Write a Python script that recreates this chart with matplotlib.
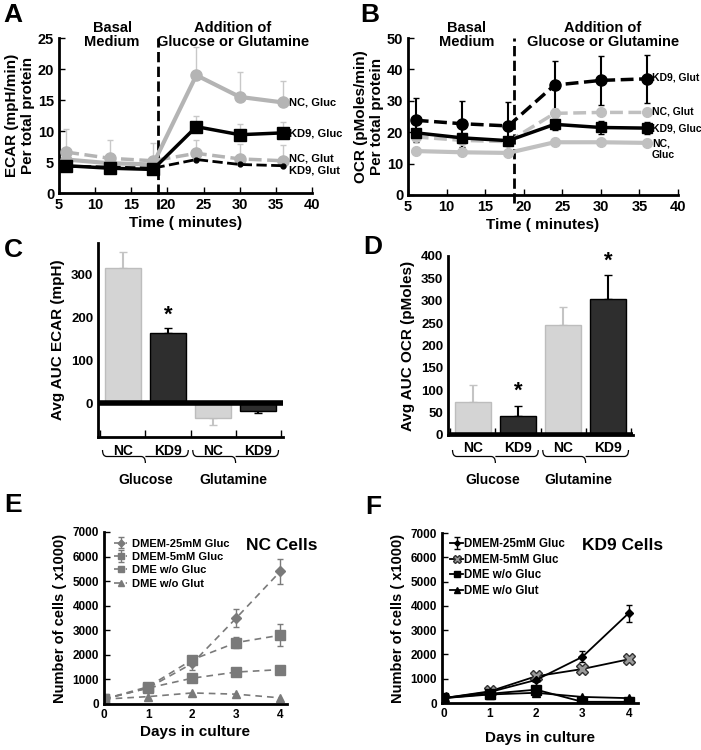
import matplotlib
matplotlib.use("Agg")
import matplotlib.pyplot as plt
import numpy as np
from matplotlib.path import Path
from matplotlib.patches import PathPatch
import matplotlib.transforms as mtransforms

plt.rcParams['font.family'] = ['Liberation Sans', 'DejaVu Sans']
plt.rcParams['font.weight'] = 'bold'
plt.rcParams['axes.labelweight'] = 'bold'

W, H = 701, 750

# ---------------- Data ----------------
time_min = [6, 12, 18, 24, 30, 36]
ecar_nc_gluc = [5.4, 4.8, 4.6, 19.0, 15.5, 14.6]
ecar_nc_gluc_err = [0, 0, 0, 4.5, 4.0, 3.4]
ecar_kd9_gluc = [4.4, 4.0, 3.8, 10.7, 9.4, 9.7]
ecar_kd9_gluc_err = [0, 0, 0, 1.7, 1.8, 1.8]
ecar_nc_glut = [6.6, 5.6, 5.2, 6.4, 5.5, 5.2]
ecar_nc_glut_err = [3.8, 3.0, 2.9, 2.1, 2.4, 2.5]
ecar_kd9_glut = [4.3, 4.2, 4.0, 5.4, 4.6, 4.4]

ocr_kd9_glut = [23.8, 22.7, 22.0, 35.0, 36.5, 37.0]
ocr_kd9_glut_err = [7.0, 7.3, 7.6, 7.7, 7.7, 7.6]
ocr_nc_glut = [18.5, 17.4, 17.0, 26.0, 26.3, 26.3]
ocr_kd9_gluc = [19.8, 18.2, 17.3, 22.5, 21.5, 21.3]
ocr_kd9_gluc_err = [0, 0, 0, 1.7, 2.0, 2.0]
ocr_nc_gluc = [14.0, 13.6, 13.4, 16.8, 16.8, 16.6]

bar_labels = ['NC', 'KD9', 'NC', 'KD9']
group_labels = ['Glucose', 'Glutamine']
auc_ecar = [315, 163, -35, -18]
auc_ecar_err = [37, 12, 15, 5]
auc_ocr = [73, 42, 245, 305]
auc_ocr_err = [38, 23, 40, 52]

days = [0, 1, 2, 3, 4]
series_names = ['DMEM-25mM Gluc', 'DMEM-5mM Gluc', 'DME w/o Gluc', 'DME w/o Glut']
nc_25 = [200, 650, 1650, 3500, 5400]
nc_25_err = [0, 0, 250, 380, 500]
nc_5 = [200, 700, 1800, 2500, 2800]
nc_5_err = [0, 0, 100, 230, 450]
nc_nogluc = [200, 650, 1050, 1300, 1400]
nc_noglut = [200, 300, 450, 400, 250]
kd_25 = [200, 450, 950, 1900, 3700]
kd_25_err = [0, 0, 0, 230, 350]
kd_5 = [200, 480, 1100, 1400, 1800]
kd_nogluc = [200, 380, 550, 50, 50]
kd_noglut = [200, 350, 420, 250, 200]

fig = plt.figure(figsize=(W / 100, H / 100), dpi=100)


def add_ax(l, t, r, b):
    return fig.add_axes([l / W, 1 - b / H, (r - l) / W, (b - t) / H])


def ftext(x, y, s, **kw):
    kw.setdefault('fontweight', 'bold')
    fig.text(x / W, 1 - y / H, s, **kw)


def style(ax, fs=9.5):
    for s in ['top', 'right']:
        ax.spines[s].set_visible(False)
    for s in ['left', 'bottom']:
        ax.spines[s].set_linewidth(2)
    ax.tick_params(direction='in', length=4, width=1, labelsize=fs)
    for lab in ax.get_xticklabels() + ax.get_yticklabels():
        lab.set_fontweight('bold')


LG = '#b4b4b4'
# ---------------- Panel A ----------------
axA = add_ax(59, 38, 312, 193)
axA.plot(time_min, ecar_nc_gluc, '-', color=LG, lw=3, marker='o', ms=8, zorder=3)
axA.errorbar(time_min, ecar_nc_gluc, yerr=[[0]*6, ecar_nc_gluc_err], fmt='none',
             ecolor='#c8c8c8', elinewidth=1, capsize=2)
axA.plot(time_min, ecar_nc_glut, '--', color=LG, lw=2.5, marker='o', ms=8, zorder=3)
axA.errorbar(time_min, ecar_nc_glut, yerr=[[0]*6, ecar_nc_glut_err], fmt='none',
             ecolor='#c8c8c8', elinewidth=1, capsize=2)
axA.plot(time_min, ecar_kd9_gluc, '-', color='black', lw=2.5, marker='s', ms=8, zorder=4)
axA.errorbar(time_min, ecar_kd9_gluc, yerr=[[0]*6, ecar_kd9_gluc_err], fmt='none',
             ecolor='#c8c8c8', elinewidth=1, capsize=2)
axA.plot(time_min, ecar_kd9_glut, '--', color='black', lw=2, marker='o', ms=3.5, zorder=4)
axA.set_xlim(5, 40)
axA.set_ylim(0, 25)
axA.set_xticks(range(5, 41, 5))
axA.set_yticks(range(0, 26, 5))
axA.axvline(18.7, ymin=-0.1, ymax=1, color='black', ls='--', lw=2, clip_on=False)
style(axA, 10.5)
axA.set_xlabel('Time ( minutes)', fontsize=11, labelpad=3)
axA.set_ylabel('ECAR (mpH/min)\nPer total protein', fontsize=11, labelpad=2)
for y, s in [(14.6, 'NC, Gluc'), (9.6, 'KD9, Gluc'), (5.5, 'NC, Glut'), (3.6, 'KD9, Glut')]:
    axA.text(36.8, y, s, fontsize=8, fontweight='bold', va='center', ha='left')
ftext(112, 35, 'Basal\nMedium', fontsize=10.5, ha='center', va='center', linespacing=1.0)
ftext(233, 35, 'Addition of\nGlucose or Glutamine', fontsize=10.5, ha='center', va='center', linespacing=1.0)

# ---------------- Panel B ----------------
axB = add_ax(408, 38, 678, 195)
axB.plot(time_min, ocr_nc_gluc, '-', color='#c0c0c0', lw=3, marker='o', ms=7, zorder=3)
axB.plot(time_min, ocr_nc_glut, '--', color='#c0c0c0', lw=2.5, marker='o', ms=7, zorder=3)
axB.plot(time_min, ocr_kd9_gluc, '-', color='black', lw=2.5, marker='s', ms=7, zorder=4)
axB.errorbar(time_min, ocr_kd9_gluc, yerr=ocr_kd9_gluc_err, fmt='none',
             ecolor='black', elinewidth=1.2, capsize=2)
axB.plot(time_min, ocr_kd9_glut, '--', color='black', lw=2.5, marker='o', ms=8, zorder=5)
axB.errorbar(time_min, ocr_kd9_glut, yerr=ocr_kd9_glut_err, fmt='none',
             ecolor='black', elinewidth=1.5, capsize=2.5)
axB.set_xlim(5, 40)
axB.set_ylim(0, 50)
axB.set_xticks(range(5, 41, 5))
axB.set_yticks(range(0, 51, 10))
axB.axvline(18.7, ymin=-0.05, ymax=1, color='black', ls='--', lw=2, clip_on=False)
style(axB, 10.5)
axB.set_xlabel('Time ( minutes)', fontsize=11, labelpad=3)
axB.set_ylabel('OCR (pMoles/min)\nPer total protein', fontsize=11, labelpad=2)
for y, s in [(37.3, 'KD9, Glut'), (26.5, 'NC, Glut'), (21.3, 'KD9, Gluc'), (14.5, 'NC,\nGluc')]:
    axB.text(36.6, y, s, fontsize=7.5, fontweight='bold', va='center', ha='left')
ftext(467, 35, 'Basal\nMedium', fontsize=10.5, ha='center', va='center', linespacing=1.0)
ftext(603, 35, 'Addition of\nGlucose or Glutamine', fontsize=10.5, ha='center', va='center', linespacing=1.0)


# ---------------- brace helper ----------------
def brace(ax, x0, x1, ytop_px, depth_px=13):
    """draw a curly brace below ax between data x0..x1, y in figure pixels from top"""
    trans = mtransforms.blended_transform_factory(ax.transData, fig.transFigure)
    y0 = 1 - ytop_px / H
    d = depth_px / H
    xm = (x0 + x1) / 2
    r = (x1 - x0) * 0.05
    verts = [(x0, y0), (x0, y0 - d / 2), (x0 + r, y0 - d / 2),
             (xm - r, y0 - d / 2), (xm, y0 - d / 2), (xm, y0 - d),
             (xm, y0 - d / 2), (xm + r, y0 - d / 2),
             (x1 - r, y0 - d / 2), (x1, y0 - d / 2), (x1, y0)]
    codes = [Path.MOVETO, Path.CURVE3, Path.CURVE3,
             Path.LINETO, Path.CURVE3, Path.CURVE3,
             Path.MOVETO, Path.CURVE3, Path.LINETO, Path.CURVE3, Path.CURVE3]
    ax.add_patch(PathPatch(Path(verts, codes), transform=trans, fill=False,
                           lw=0.9, color='black', clip_on=False))


def bar_panel(ax, vals, errs, ylim, yticks, ylabel, stars):
    xs = np.arange(len(vals))
    colors = ['#d4d4d4', '#2e2e2e', '#d4d4d4', '#2e2e2e']
    edges = ['#bdbdbd', 'black', '#bdbdbd', 'black']
    ecols = ['#c4c4c4', 'black', '#c4c4c4', 'black']
    ax.bar(xs, vals, width=0.8, color=colors, edgecolor=edges, lw=1, zorder=2)
    for x, v, e, c in zip(xs, vals, errs, ecols):
        if v >= 0:
            ax.errorbar([x], [v], yerr=[[0], [e]], fmt='none', ecolor=c, elinewidth=1.5, capsize=3, zorder=1)
        else:
            ax.errorbar([x], [v], yerr=[[e], [0]], fmt='none', ecolor=c, elinewidth=1.5, capsize=3, zorder=1)
    ax.axhline(0, color='black', lw=4, zorder=3)
    ax.set_xlim(-0.55, 3.55)
    ax.set_ylim(*ylim)
    ax.set_yticks(yticks)
    ax.set_xticks([-0.5, 0.5, 1.5, 2.5, 3.5])
    ax.set_xticklabels([])
    style(ax, 9.5)
    ax.tick_params(axis='y', length=0)
    ax.tick_params(axis='x', direction='in', length=5, width=1)
    ax.set_ylabel(ylabel, fontsize=11, labelpad=4)
    for i, lab in enumerate(bar_labels):
        ax.text(i, -0.035, lab, transform=mtransforms.blended_transform_factory(ax.transData, ax.transAxes),
                ha='center', va='top', fontsize=10, fontweight='bold')
    for i, yv in stars:
        ax.text(i, yv, '*', ha='center', va='center', fontsize=16, fontweight='bold')


# ---------------- Panel C ----------------
axC = add_ax(98, 243, 283, 437)
bar_panel(axC, auc_ecar, auc_ecar_err, (-78, 372), [0, 100, 200, 300], 'Avg AUC ECAR (mpH)', [(1, 205)])
brace(axC, -0.45, 1.45, 450)
brace(axC, 1.55, 3.45, 450)
ftext(146, 480, group_labels[0], fontsize=10, ha='center', va='center')
ftext(233, 480, group_labels[1], fontsize=10, ha='center', va='center')

# ---------------- Panel D ----------------
axD = add_ax(448, 256, 633, 435)
bar_panel(axD, auc_ocr, auc_ocr_err, (0, 400), list(range(0, 401, 50)), 'Avg AUC OCR (pMoles)',
          [(1, 97), (3, 388)])
brace(axD, -0.45, 1.45, 450)
brace(axD, 1.55, 3.45, 450)
ftext(493, 480, group_labels[0], fontsize=10, ha='center', va='center')
ftext(578, 480, group_labels[1], fontsize=10, ha='center', va='center')

# ---------------- Panel E ----------------
axE = add_ax(104, 532, 287, 704)
G = '#7a7a7a'
hE = []
hE.append(axE.errorbar(days, nc_25, yerr=nc_25_err, fmt='--D', color=G, ms=5, lw=1.2, elinewidth=1,
                       capsize=2, dashes=(4, 3)))
hE.append(axE.errorbar(days, nc_5, yerr=nc_5_err, fmt='--s', color=G, ms=7, lw=1.2, elinewidth=1,
                       capsize=2, dashes=(4, 3)))
hE.append(axE.plot(days, nc_nogluc, '--s', color=G, ms=7, lw=1.2, dashes=(4, 3))[0])
hE.append(axE.plot(days, nc_noglut, '--^', color=G, ms=6, lw=1.2, dashes=(4, 3))[0])
axE.set_xlim(0, 4.15)
axE.set_ylim(0, 7000)
axE.set_xticks(days)
axE.set_yticks(range(0, 7001, 1000))
style(axE, 8.5)
axE.tick_params(axis='x', length=0)
axE.set_xlabel('Days in culture', fontsize=11, labelpad=3)
axE.set_ylabel('Number of cells ( x1000)', fontsize=10.5, labelpad=4)
axE.legend(hE, series_names, loc='upper left', bbox_to_anchor=(0.0, 1.02), frameon=False,
           handlelength=1.2, handletextpad=0.4, labelspacing=0.3, markerscale=0.7,
           prop={'weight': 'bold', 'size': 8})
ftext(317, 545, 'NC Cells', fontsize=12.5, ha='right', va='center')

# ---------------- Panel F ----------------
axF = add_ax(442, 533, 638, 703)
hF = []
hF.append(axF.errorbar(days, kd_25, yerr=kd_25_err, fmt='-D', color='black', ms=4, lw=1.3, elinewidth=1,
                       capsize=2))
hF.append(axF.plot(days, kd_5, '-X', color='black', mfc='#9a9a9a', mec='#333333', ms=9, lw=1.3)[0])
hF.append(axF.plot(days, kd_nogluc, '-s', color='black', ms=7, lw=1.3)[0])
hF.append(axF.plot(days, kd_noglut, '-^', color='black', ms=6, lw=1.3)[0])
axF.set_xlim(-0.03, 4.2)
axF.set_ylim(0, 7000)
axF.set_xticks(days)
axF.set_yticks(range(0, 7001, 1000))
style(axF, 8.5)
axF.tick_params(axis='x', length=0)
axF.set_xlabel('Days in culture', fontsize=11, labelpad=8)
axF.set_ylabel('Number of cells ( x1000)', fontsize=10.5, labelpad=4)
axF.legend(hF, series_names, loc='upper left', bbox_to_anchor=(-0.01, 1.03), frameon=False,
           handlelength=1.1, handletextpad=0.1, labelspacing=0.3, markerscale=0.7,
           prop={'weight': 'bold', 'size': 8.3})
ftext(663, 545, 'KD9 Cells', fontsize=12.5, ha='right', va='center')

# ---------------- panel letters ----------------
for x, y, s in [(13, 15, 'A'), (370, 15, 'B'), (13, 250, 'C'), (373, 247, 'D'), (13, 505, 'E'), (373, 507, 'F')]:
    ftext(x, y, s, fontsize=19, ha='center', va='center')

fig.savefig('out.png', dpi=100)
